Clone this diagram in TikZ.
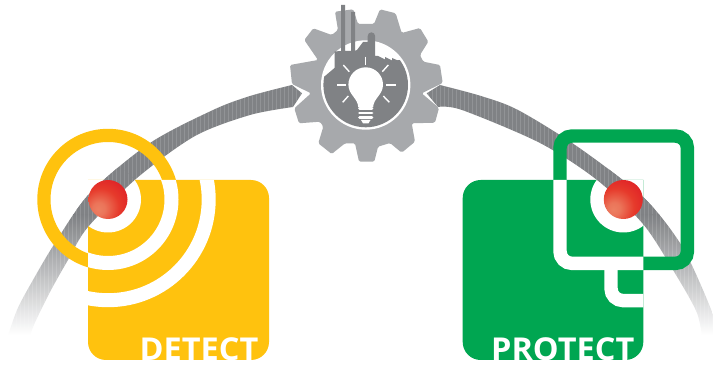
\documentclass[tikz,border=0pt]{standalone}
\usepackage{fontspec}
\setmainfont{Open Sans}
\definecolor{amber}{HTML}{FFC20E}
\definecolor{leaf}{HTML}{00A651}
\definecolor{bandgray}{HTML}{808285}
\definecolor{geargray}{HTML}{A7A9AC}
\definecolor{ballred}{HTML}{DF1F26}
\definecolor{ballmid}{HTML}{E63A2B}
\definecolor{ballglow}{HTML}{EC7F62}
\definecolor{ballrim}{HTML}{C81A22}
\pgfdeclareradialshading{redball}{\pgfpoint{-13bp}{-13bp}}{%
  color(0bp)=(ballglow); color(8bp)=(ballglow!85!ballmid); color(24bp)=(ballmid); color(40bp)=(ballred); color(66bp)=(ballrim); color(100bp)=(ballrim)}
\newcommand{\detectsquare}{(251,180) arc[start angle=90,end angle=0,radius=18pt] -- (269,342) arc[start angle=0,end angle=-90,radius=18pt] -- (106,360) arc[start angle=-90,end angle=-180,radius=18pt] -- (88,180) -- cycle}
\newcommand{\protectsquare}{(462.7,198) arc[start angle=180,end angle=90,radius=18pt] -- (643.3,180) -- (643.3,342) arc[start angle=0,end angle=-90,radius=18pt] -- (480.7,360) arc[start angle=-90,end angle=-180,radius=18pt] -- cycle}
\newcommand{\leftband}{plot[smooth] coordinates {(5,345) (17,310) (33,280) (55,243) (90,193) (150,143) (213,110) (250,96) (292,85)} -- (302,93.3) -- plot[smooth] coordinates {(293,107) (250,115) (195,136) (137,178) (88,227) (68,260) (50,292) (33,327) (28,345)} -- cycle}
\newcommand{\rightband}{plot[smooth] coordinates {(440,85) (481,96) (518,110) (578,147) (643,197) (680,243) (703,290) (725,345)} -- (730,345) -- (713,345) -- plot[smooth] coordinates {(703,345) (697,313) (673,270) (643,224) (597,180) (540,143) (462,110) (438,107)} -- (426.7,93.3) -- cycle}
\newcommand{\paintband}[1]{%
\begin{scope}
  \clip (0,0) rectangle (713,366);
  \clip #1;
  \fill[bandgray] (0,60) rectangle (713,215);
  \shade[top color=bandgray,bottom color=white] (0,215) rectangle (713,335);
  \foreach \xx in {0,4,...,712}{\draw[white,opacity=.14,line width=.7pt] (\xx,60) -- (\xx,340);}
\end{scope}}
\tikzset{
  labeltext/.style={text=white,font=\fontsize{31.5}{31.5}\selectfont\bfseries,inner sep=0pt,anchor=base west,xscale=1.03},
  ray/.style={draw=white,line width=1.4pt},
  bulbbar/.style={draw=white,line width=2.9pt,line cap=round},
  ball/.style={shading=redball},
}
\begin{document}
\begin{tikzpicture}[x=1pt,y=-1pt]
\useasboundingbox (0,0) rectangle (713,366);
\fill[white] (0,0) rectangle (713,366);
% bands
\paintband{\leftband}
\paintband{\rightband}
% gear
\fill[geargray,rounded corners=1.5pt] (335,11.7) -- (353.3,9.3) -- (358,24) -- (374,24) -- (380,9.3) -- (395.7,13.3) -- (401.7,33) -- (420,28) -- (428.3,41.7) -- (420,55) -- (423.3,61.7) -- (440,65) -- (442.7,83) -- (421.7,93.3) -- (439,108) -- (435,122.7) -- (411.7,123.3) -- (415,141.7) -- (401.7,152.7) -- (390,143) -- (378,146.7) -- (374.3,161.7) -- (359,161.7) -- (355,143.3) -- (345,143.3) -- (331.7,154) -- (318.3,143.3) -- (323.3,126.7) -- (320,121.7) -- (299,123.3) -- (294.3,108.3) -- (311,93.3) -- (292,84) -- (290,65) -- (318,60) -- (304.3,40) -- (313.3,28.3) -- (331.7,35) -- (338,30) -- cycle;
\fill[white] (365.7,85) circle[radius=44.7pt];
% factory
\begin{scope}
  \clip (365.7,85) circle[radius=42.3pt];
  \fill[bandgray] (312,87) -- (334.5,68) -- (400,60) -- (420,60) -- (420,140) -- (300,140) -- cycle;
\end{scope}
\fill[bandgray] (334.5,72) -- (334.5,51.5) -- (341,51) -- (341,5) -- (345,5) -- (345,51) -- (351,51) -- (351,12) -- (355,12) -- (355,51) -- (357,50) -- (363,42) -- (367.7,42) -- (367.7,36) arc[start angle=180,end angle=0,radius=3.7pt] -- (375,56) -- (378,56) -- (385,59.5) -- (385,57) -- (392,60.5) -- (392,58) -- (399,61) -- (400,72) -- cycle;
% bulb
\fill[white] (358.3,107.5) .. controls (358,98) and (348.4,95) .. (348.4,84.6) arc[start angle=180,end angle=0,radius=17.3pt] .. controls (383,95) and (373.4,98) .. (373.1,107.5) -- cycle;
\foreach \yy in {108.5,113,117.5}{\draw[bulbbar] (359.5,\yy) -- (372,\yy);}
\fill[white] (361,120) -- (370.5,120) -- (368.5,123.3) -- (363,123.3) -- cycle;
\draw[ray] (365.7,56.7) -- (365.7,65);
\draw[ray] (337.3,85) -- (346,85);
\draw[ray] (386,85) -- (395.7,85);
\draw[ray] (343.3,65) -- (349.3,71.7);
\draw[ray] (388.3,65) -- (382.3,71.7);
\draw[ray] (342.7,102.3) -- (348.3,96);
\draw[ray] (389.3,102.3) -- (383.3,96);
% detect
\draw[amber,line width=13.2pt] (108,199.5) circle[radius=64.1pt];
\fill[amber] \detectsquare;
\begin{scope}
  \clip \detectsquare;
  \fill[white] (108,199.5) circle[radius=33pt];
  \draw[white,line width=14pt] (108,199.5) circle[radius=63.5pt];
  \draw[white,line width=14pt] (108,199.5) circle[radius=100.7pt];
\end{scope}
\begin{scope}
  \clip (108,199.5) circle[radius=33pt];
  \paintband{\leftband}
\end{scope}
\node[labeltext] (detectlabel) at (139.5,360) {DETECT};
\shade[ball] (108,199.5) circle[radius=19.5pt];
% protect
\draw[leaf,line width=13.4pt,rounded corners=12pt] (560,136) rectangle (687.4,263.4);
\fill[leaf] \protectsquare;
\begin{scope}
  \clip \protectsquare;
  \draw[white,line width=13.4pt,rounded corners=12pt] (560,136) rectangle (687.4,263.4);
  \draw[white,line width=13.4pt,rounded corners=12pt] (611,263) -- (611,300.6) -- (660,300.6);
  \fill[white] (623.3,199.5) circle[radius=33pt];
\end{scope}
\begin{scope}
  \clip (623.3,199.5) circle[radius=33pt];
  \paintband{\rightband}
\end{scope}
\node[labeltext] (protectlabel) at (491,360) {PROTECT};
\shade[ball] (623.3,199.5) circle[radius=19.5pt];
\end{tikzpicture}
\end{document}
